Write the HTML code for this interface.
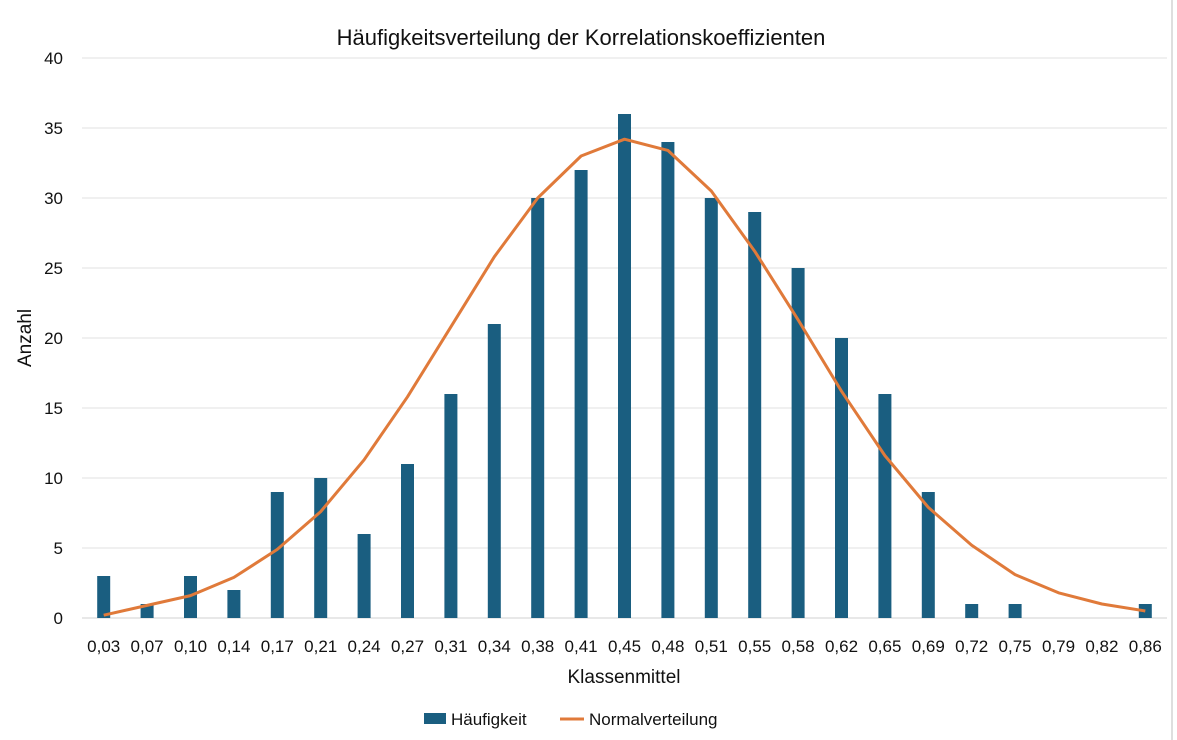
<!DOCTYPE html>
<html><head><meta charset="utf-8"><style>
body{margin:0;background:#fff;width:1177px;height:740px;overflow:hidden;font-family:"Liberation Sans",sans-serif}
</style></head><body>
<svg id="c" width="1177" height="740" style="position:absolute;left:0;top:0">
<line x1="1172" y1="0" x2="1172" y2="740" stroke="#d4d4d4" stroke-width="1.5"/>
<text x="581" y="45" text-anchor="middle" font-size="22" fill="#111">Häufigkeitsverteilung der Korrelationskoeffizienten</text>
<text x="0" y="0" transform="translate(31,338) rotate(-90)" text-anchor="middle" font-size="19" fill="#111">Anzahl</text>
<text x="624" y="683" text-anchor="middle" font-size="19" fill="#111">Klassenmittel</text>
<g>
<rect x="424" y="713" width="22" height="11" fill="#1a5e80"/>
<text x="451" y="725" font-size="17" fill="#111">Häufigkeit</text>
<line x1="560" y1="719" x2="584" y2="719" stroke="#e07a3a" stroke-width="3"/>
<text x="589" y="725" font-size="17" fill="#111">Normalverteilung</text>
</g>
</svg>
<script>
const categories=["0,03","0,07","0,10","0,14","0,17","0,21","0,24","0,27","0,31","0,34","0,38","0,41","0,45","0,48","0,51","0,55","0,58","0,62","0,65","0,69","0,72","0,75","0,79","0,82","0,86"];
const counts=[3,1,3,2,9,10,6,11,16,21,30,32,36,34,30,29,25,20,16,9,1,1,0,0,1];
const normal=[0.2,0.9,1.6,2.9,4.9,7.6,11.3,15.8,20.8,25.8,30,33,34.2,33.4,30.5,26.2,21.3,16.2,11.6,7.9,5.2,3.1,1.8,1.0,0.5];
const yTicks=[0,5,10,15,20,25,30,35,40];
const svg=document.getElementById('c');const NS='http://www.w3.org/2000/svg';
const L=82,R=1167,T=58,B=618,yMax=40;
const bw=(R-L)/categories.length;
const xc=i=>L+bw*(i+0.5);
const y=v=>B-(v/yMax)*(B-T);
function mk(t,a){const e=document.createElementNS(NS,t);for(const k in a)e.setAttribute(k,a[k]);svg.appendChild(e);return e;}
yTicks.forEach(v=>{
const g=mk('line',{x1:L,x2:R,y1:y(v),y2:y(v),stroke:v===0?'#d0d0d0':'#e2e2e2','stroke-width':1});


const t=mk('text',{x:63,y:y(v)+6,'text-anchor':'end','font-size':17,fill:'#111'});t.textContent=v;


});
categories.forEach((c,i)=>{
const t=mk('text',{x:xc(i),y:652,'text-anchor':'middle','font-size':17,fill:'#111'});t.textContent=c;


const h=B-y(counts[i]);
const r=mk('rect',{x:xc(i)-6.5,y:y(counts[i]),width:13,height:h,fill:'#1a5e80'});


});
const p=mk('polyline',{points:normal.map((v,i)=>xc(i)+','+y(v)).join(' '),fill:'none',stroke:'#e07a3a','stroke-width':3,'stroke-linejoin':'round'});


</script>
</body></html>
